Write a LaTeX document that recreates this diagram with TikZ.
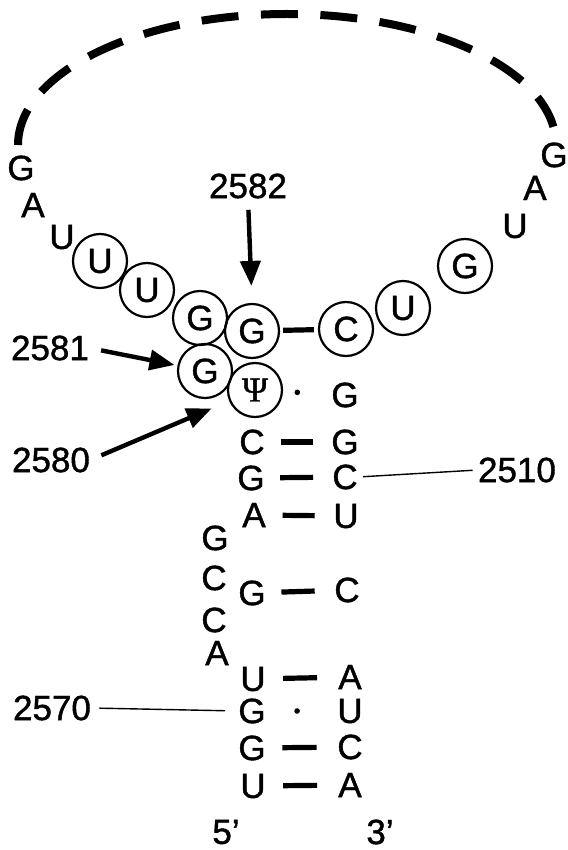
\documentclass[tikz,border=0pt]{standalone}
\usepackage{fontspec}
\setmainfont[FakeBold=1.2]{Liberation Sans}
\newfontfamily\psifont[FakeBold=1.2]{Liberation Serif}
\usetikzlibrary{arrows.meta,calc}
\begin{document}
\begin{tikzpicture}[x=0.5pt,y=-0.5pt,
  base/.style={font=\fontsize{17.5}{20}\selectfont, inner sep=0pt},
  circ/.style={base, circle, draw, line width=1.1pt, minimum size=27pt},
  pairbar/.style={line width=2.6pt},
  dotmark/.style={circle, fill, inner sep=0pt, minimum size=2.8pt},
  thinline/.style={line width=0.7pt},
  arr/.style={line width=2.2pt, -{Triangle[length=12.5pt,width=10pt]}},
  loopdash/.style={line width=4pt, dash pattern=on 18.5pt off 11.25pt},
]
\useasboundingbox (0,0) rectangle (567,850);

% loop, unpaired letters
\node[base] (lG) at (21,168) {G};
\node[base] (lA) at (33,205) {A};
\node[base] (lU) at (62,237) {U};
\node[base] (rU) at (515,226) {U};
\node[base] (rA) at (535,188) {A};
\node[base] (rG) at (554,155) {G};

% dashed loop
\coordinate (arcL) at (18,145);
\draw[loopdash] (arcL) arc[start angle=180, end angle=352, x radius=269, y radius=131];

% circled nucleotides
\node[circ] (cU1) at (100,261) {U};
\node[circ] (cU2) at (147,290) {U};
\node[circ] (cG1) at (200,318) {G};
\node[circ] (cG2) at (252,331) {G};
\node[circ] (cG3) at (205,371) {G};
\node[circ] (psi) at (255,390) {\psifont Ψ};
\node[circ] (cC)  at (346,329) {C};
\node[circ] (cU3) at (403,308) {U};
\node[circ] (cG4) at (465,266) {G};
\draw[pairbar, shorten <=1.5pt, shorten >=2pt] (cG2) -- (cC);

% stem, left strand
\node[base] (l1) at (252,442) {C};
\node[base] (l2) at (251,478) {G};
\node[base] (l3) at (254,515) {A};
\node[base] (l4) at (252,593) {G};
\node[base] (l5) at (253,679) {U};
\node[base] (l6) at (252,711) {G};
\node[base] (l7) at (252,748) {G};
\node[base] (l8) at (253,786) {U};
% stem, right strand
\node[base] (r0) at (345,395) {G};
\node[base] (r1) at (345,442) {G};
\node[base] (r2) at (345,477) {C};
\node[base] (r3) at (346,516) {U};
\node[base] (r4) at (347,590) {C};
\node[base] (r5) at (350,677) {A};
\node[base] (r6) at (350,711) {U};
\node[base] (r7) at (350,747) {C};
\node[base] (r8) at (350,785) {A};
% bulge
\node[base] (b1) at (215,538) {G};
\node[base] (b2) at (214,578) {C};
\node[base] (b3) at (214,620) {C};
\node[base] (b4) at (217,653) {A};

% pairings
\foreach \a/\b in {l1/r1,l2/r2,l3/r3,l4/r4,l5/r5,l7/r7,l8/r8}{
  \draw[pairbar] ($(\a)!0.31!(\b)$) -- ($(\a)!0.66!(\b)$);
}
\node[dotmark] (d0) at ($(psi)!0.47!(r0)$) {};
\node[dotmark] (d6) at ($(l6)!0.46!(r6)$) {};

% ends
\node[base] (p5) at (226,832) {5'};
\node[base] (p3) at (380,832) {3'};

% numbering
\node[base] (n2582) at (248,186) {2582};
\node[base] (n2581) at (50,348) {2581};
\node[base] (n2580) at (51,460) {2580};
\node[base] (n2510) at (517,470) {2510};
\node[base] (n2570) at (52,708) {2570};

\draw[arr, shorten <=5.5pt, shorten >=8.5pt] (n2582.south) -- (cG2.north);
\draw[arr, shorten <=6pt, shorten >=1.5pt] (n2581.east) -- (cG3);
\draw[arr, shorten <=6pt, shorten >=9.5pt] (n2580.east) -- (psi);
\draw[thinline, shorten <=2.5pt, shorten >=2.5pt] (r2.east) -- (n2510.west);
\draw[thinline, shorten <=4pt, shorten >=6.5pt] (n2570.east) -- (l6.west);
\end{tikzpicture}
\end{document}
